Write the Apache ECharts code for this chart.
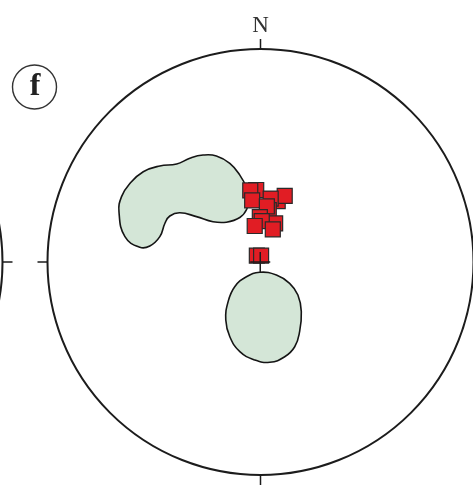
<!DOCTYPE html>
<html>
<head>
<meta charset="utf-8">
<title>Stereonet f</title>
<script src="https://cdn.jsdelivr.net/npm/echarts@6/dist/echarts.min.js"></script>
<style>
  html, body { margin: 0; padding: 0; background: #ffffff; }
  #chart { width: 473px; height: 485px; }
</style>
</head>
<body>
<div id="chart"></div>
<script>
// Projected coordinates, in percent of the primitive radius (x east, y north).
const poleSquares = [
  [-1.9, 33.8], [-4.7, 33.6], [-3.8, 28.9],
  [8.2, 28.6], [11.5, 31.0], [4.9, 29.8],
  [4.0, 24.4], [3.1, 26.1],
  [-0.2, 21.1], [7.0, 18.1], [0.7, 19.2],
  [-2.6, 16.9], [5.9, 15.3],
  [-1.6, 3.0], [0.4, 3.0]
];

// Contour outlines (closed, smoothed when drawn)
const contourUpper = [
  [-66.4, 23.6], [-65.2, 30.7], [-61.3, 36.9], [-55.0, 42.4], [-47.2, 45.1],
  [-39.3, 46.0], [-33.1, 48.7], [-26.9, 50.2], [-20.6, 49.8], [-14.3, 46.3],
  [-9.6, 40.8], [-6.3, 34.6], [-5.5, 29.9], [-6.3, 24.9], [-9.6, 20.9],
  [-15.9, 18.7], [-22.2, 18.9], [-30.0, 21.3], [-37.8, 23.1], [-42.5, 21.6],
  [-44.8, 18.2], [-47.2, 11.9], [-51.9, 7.5], [-56.6, 6.9], [-63.6, 11.9]
];
const contourLower = [
  [-0.2, -4.8], [7.6, -6.1], [13.8, -10.0], [17.7, -15.5], [19.3, -23.3],
  [18.5, -32.7], [16.2, -39.8], [11.5, -44.5], [4.5, -47.1], [-2.6, -46.0],
  [-9.6, -42.1], [-14.3, -35.1], [-16.2, -27.2], [-15.1, -18.6], [-12.0, -11.6],
  [-6.5, -6.9]
];
const contours = [contourUpper, contourLower];

const directionLabels = ['N', '', '', ''];

const CX = 260.5, CY = 262, R = 213;

const chart = echarts.init(document.getElementById('chart'), null, { renderer: 'canvas' });

function angleAxisFor(idx, showLabels) {
  return {
    polarIndex: idx,
    type: 'value',
    min: 0,
    max: 360,
    interval: 90,
    startAngle: 90,
    clockwise: true,
    axisLine: { show: true, lineStyle: { color: '#1c1c1c', width: 2 } },
    axisTick: { show: true, length: 10, lineStyle: { color: '#1c1c1c', width: 1.5 } },
    splitLine: { show: false },
    axisLabel: {
      show: showLabels,
      margin: 12,
      fontFamily: 'Liberation Serif',
      fontSize: 23,
      color: '#333333',
      formatter: function (v) {
        const i = Math.round(v / 90);
        return i < 4 ? directionLabels[i] : '';
      }
    }
  };
}

const option = {
  animation: false,
  backgroundColor: '#ffffff',
  polar: [
    { center: [CX, CY], radius: R },
    { center: [CX - 2 * R - 45, CY], radius: R }
  ],
  angleAxis: [angleAxisFor(0, true), angleAxisFor(1, false)],
  radiusAxis: [
    { polarIndex: 0, show: false, min: 0, max: 1 },
    { polarIndex: 1, show: false, min: 0, max: 1 }
  ],
  grid: { left: CX - R, top: CY - R, width: 2 * R, height: 2 * R },
  xAxis: { type: 'value', min: -100, max: 100, show: false },
  yAxis: { type: 'value', min: -100, max: 100, show: false },
  graphic: [
    {
      type: 'circle',
      shape: { cx: 34.5, cy: 87, r: 22 },
      style: { fill: 'none', stroke: '#333333', lineWidth: 1.4 }
    },
    {
      type: 'text',
      x: 35, y: 87,
      style: {
        text: 'f',
        font: 'bold 32px "Liberation Serif"',
        fill: '#222222',
        align: 'center',
        verticalAlign: 'middle'
      }
    }
  ],
  series: [
    {
      type: 'custom',
      name: 'contours',
      coordinateSystem: 'cartesian2d',
      clip: false,
      z: 2,
      data: contours.map(c => c[0]),
      renderItem: function (params, api) {
        const pts = contours[params.dataIndex].map(p => api.coord(p));
        return {
          type: 'polygon',
          shape: { points: pts, smooth: 0.45 },
          style: { fill: '#d4e6d7', stroke: '#151515', lineWidth: 1.6 }
        };
      }
    },
    {
      type: 'scatter',
      name: 'poles',
      coordinateSystem: 'cartesian2d',
      clip: false,
      z: 3,
      symbol: 'rect',
      symbolSize: 15,
      itemStyle: { color: '#e11d24', borderColor: '#2a2a2a', borderWidth: 1.2, opacity: 1 },
      data: poleSquares
    },
    {
      type: 'custom',
      name: 'centre',
      coordinateSystem: 'cartesian2d',
      clip: false,
      z: 4,
      data: [[0, 0]],
      renderItem: function (params, api) {
        const c = api.coord([0, 0]);
        const h = 10;
        return {
          type: 'group',
          children: [
            { type: 'line', shape: { x1: c[0] - h, y1: c[1], x2: c[0] + h, y2: c[1] },
              style: { stroke: '#1c1c1c', lineWidth: 1.5 } },
            { type: 'line', shape: { x1: c[0], y1: c[1] - h, x2: c[0], y2: c[1] + h },
              style: { stroke: '#1c1c1c', lineWidth: 1.5 } }
          ]
        };
      }
    }
  ]
};

chart.setOption(option);
</script>
</body>
</html>
